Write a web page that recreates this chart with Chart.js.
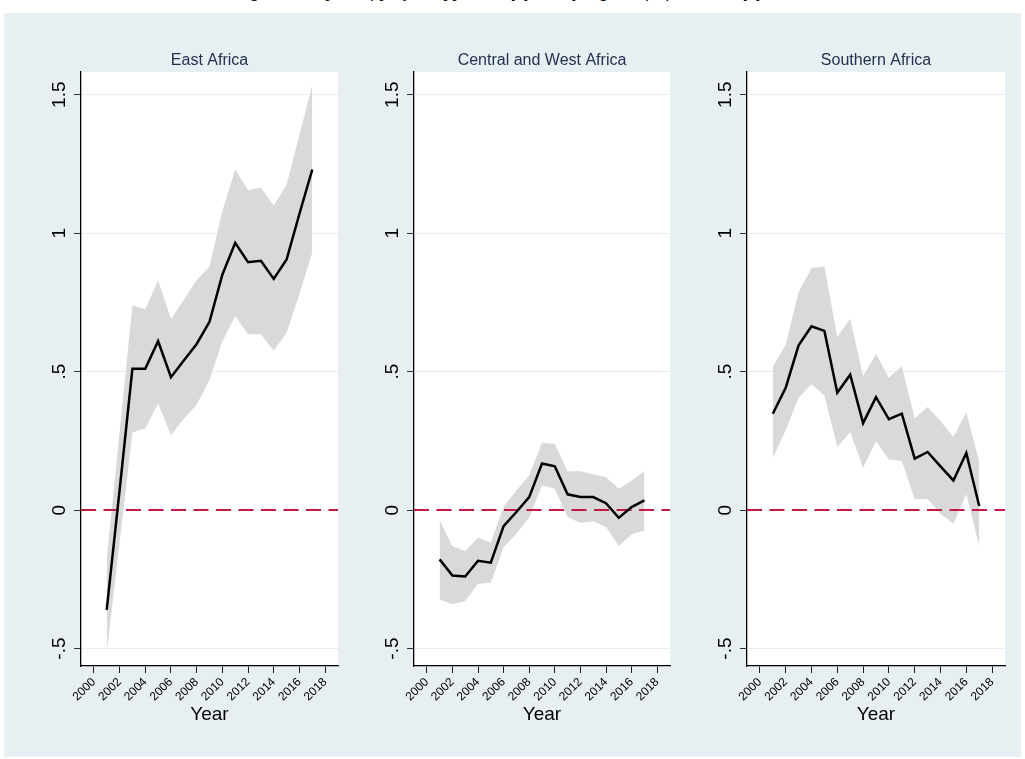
<!DOCTYPE html>
<html>
<head>
<meta charset="utf-8">
<script src="https://cdn.jsdelivr.net/npm/chart.js@4.4.1/dist/chart.umd.min.js"></script>
<style>
  body { margin: 0; width: 1025px; height: 759px; background: #fff; position: relative; overflow: hidden; }
  #caption {
    position: absolute; left: 0; top: -19px; width: 1025px; text-align: center;
    font: italic 18px "Liberation Serif", "DejaVu Serif", serif; line-height: 20px; color: #000;
    white-space: nowrap;
  }
  #bg { position: absolute; left: 4px; top: 13px; width: 1017px; height: 744px; background: #e8eff2; }
  canvas { position: absolute; top: 0; }
</style>
</head>
<body>
<div id="caption">Figure 3: Impact of project approval by year, by region of Africa and by year</div>
<div id="bg"></div>
<canvas id="east" width="314" height="726" style="left:36px"></canvas>
<canvas id="central" width="313" height="726" style="left:369px"></canvas>
<canvas id="south" width="315" height="726" style="left:702px"></canvas>
<script>
// DATA
const years = [2001, 2002, 2003, 2004, 2005, 2006, 2007, 2008, 2009, 2010, 2011, 2012, 2013, 2014, 2015, 2016, 2017];
const xTicks = [2000, 2002, 2004, 2006, 2008, 2010, 2012, 2014, 2016, 2018];
const yTicks = [-0.5, 0, 0.5, 1, 1.5];
const panelTitles = ["East Africa", "Central and West Africa", "Southern Africa"];
const axisTitle = "Year";
const refValue = 0;

const eastEst   = [-0.36, 0.07, 0.51, 0.51, 0.61, 0.48, 0.54, 0.60, 0.68, 0.85, 0.965, 0.895, 0.90, 0.835, 0.905, 1.07, 1.23];
const eastUpper = [-0.18, 0.28, 0.74, 0.725, 0.83, 0.69, 0.76, 0.83, 0.88, 1.08, 1.23, 1.155, 1.165, 1.10, 1.175, 1.355, 1.535];
const eastLower = [-0.515, -0.12, 0.28, 0.295, 0.385, 0.27, 0.33, 0.38, 0.47, 0.61, 0.70, 0.635, 0.635, 0.575, 0.64, 0.78, 0.93];

const centralEst   = [-0.178, -0.236, -0.24, -0.183, -0.19, -0.058, -0.007, 0.047, 0.168, 0.158, 0.057, 0.047, 0.047, 0.025, -0.028, 0.011, 0.035];
const centralUpper = [-0.037, -0.131, -0.148, -0.10, -0.118, 0.013, 0.071, 0.125, 0.243, 0.24, 0.14, 0.14, 0.129, 0.119, 0.077, 0.107, 0.141];
const centralLower = [-0.323, -0.34, -0.329, -0.266, -0.262, -0.134, -0.085, -0.028, 0.089, 0.077, -0.025, -0.047, -0.04, -0.061, -0.13, -0.088, -0.073];

const southEst   = [0.348, 0.442, 0.595, 0.664, 0.647, 0.424, 0.489, 0.314, 0.408, 0.328, 0.348, 0.186, 0.21, 0.158, 0.107, 0.206, 0.015];
const southUpper = [0.517, 0.597, 0.788, 0.874, 0.88, 0.625, 0.691, 0.483, 0.565, 0.478, 0.519, 0.332, 0.372, 0.322, 0.264, 0.352, 0.176];
const southLower = [0.188, 0.288, 0.406, 0.454, 0.414, 0.228, 0.282, 0.153, 0.249, 0.183, 0.177, 0.039, 0.041, -0.013, -0.049, 0.057, -0.13];

const X_MIN = 1999, X_MAX = 2019;
const Y_MIN = -0.563, Y_MAX = 1.582;
const FONT = '"Liberation Sans", Arial, Helvetica, sans-serif';

// ".5" style labels like stata
function fmtY(v) {
  if (v === 0) return "0";
  return String(v).replace("0.", ".");
}

function toPoints(values) {
  return years.map((yr, i) => ({ x: yr, y: values[i] }));
}

// white plot region, panel title, rotated y labels
const panelDecor = {
  id: "panelDecor",
  beforeDraw(chart) {
    const { ctx, chartArea: a } = chart;
    ctx.save();
    ctx.fillStyle = "#ffffff";
    ctx.fillRect(a.left, a.top, a.right - a.left, a.bottom - a.top);
    ctx.restore();
  },
  afterDraw(chart, args, opts) {
    const { ctx, chartArea: a } = chart;
    const yScale = chart.scales.y;
    ctx.save();
    ctx.fillStyle = "#23304f";
    ctx.font = "16px " + FONT;
    ctx.textAlign = "center";
    ctx.textBaseline = "alphabetic";
    ctx.fillText(opts.title, (a.left + a.right) / 2, 65);

    ctx.fillStyle = "#000";
    ctx.font = "19px " + FONT;
    ctx.textBaseline = "middle";
    yTicks.forEach(v => {
      const py = yScale.getPixelForValue(v);
      ctx.save();
      ctx.translate(a.left - 21, py);
      ctx.rotate(-Math.PI / 2);
      ctx.fillText(fmtY(v), 0, 0);
      ctx.restore();
    });
    ctx.restore();
  }
};

function renderPanel(canvasId, title, est, upper, lower) {
  const ctx = document.getElementById(canvasId).getContext("2d");
  return new Chart(ctx, {
    type: "line",
    data: {
      datasets: [
        {
          label: "upper",
          data: toPoints(upper),
          borderWidth: 0,
          pointRadius: 0,
          fill: "+1",
          backgroundColor: "#d9d9d9",
          order: 3
        },
        {
          label: "lower",
          data: toPoints(lower),
          borderWidth: 0,
          pointRadius: 0,
          fill: false,
          order: 3
        },
        {
          label: "zero",
          data: [{ x: X_MIN, y: refValue }, { x: X_MAX, y: refValue }],
          borderColor: "#c21a44",
          borderWidth: 2,
          borderDash: [15, 7.5],
          pointRadius: 0,
          fill: false,
          order: 2
        },
        {
          label: "estimate",
          data: toPoints(est),
          borderColor: "#000",
          borderWidth: 2.5,
          pointRadius: 0,
          fill: false,
          tension: 0,
          order: 1
        }
      ]
    },
    options: {
      responsive: false,
      animation: false,
      devicePixelRatio: 1,
      layout: { padding: { top: 72, left: 0, right: 12, bottom: 0 } },
      plugins: {
        legend: { display: false },
        tooltip: { enabled: false },
        panelDecor: { title: title }
      },
      scales: {
        x: {
          type: "linear",
          min: X_MIN,
          max: X_MAX,
          afterBuildTicks: s => { s.ticks = xTicks.map(v => ({ value: v })); },
          afterFit: s => { s.height = 60; },
          ticks: {
            minRotation: 45,
            maxRotation: 45,
            padding: 2,
            color: "#000",
            font: { family: FONT, size: 12 },
            callback: v => String(v)
          },
          grid: {
            drawOnChartArea: false,
            drawTicks: true,
            tickLength: 7,
            tickColor: "#222",
            tickWidth: 1
          },
          border: { display: true, color: "#000", width: 1.3 },
          title: {
            display: true,
            text: axisTitle,
            color: "#000",
            font: { family: FONT, size: 19 },
            padding: { top: 0, bottom: 0 }
          }
        },
        y: {
          type: "linear",
          min: Y_MIN,
          max: Y_MAX,
          afterBuildTicks: s => { s.ticks = yTicks.map(v => ({ value: v })); },
          afterFit: s => { s.width = 45; },
          ticks: { display: false },
          grid: {
            color: "#e6eef1",
            lineWidth: 1,
            drawTicks: true,
            tickLength: 7,
            tickColor: "#333"
          },
          border: { display: true, color: "#000", width: 1.3 }
        }
      }
    },
    plugins: [panelDecor]
  });
}

renderPanel("east", panelTitles[0], eastEst, eastUpper, eastLower);
renderPanel("central", panelTitles[1], centralEst, centralUpper, centralLower);
renderPanel("south", panelTitles[2], southEst, southUpper, southLower);
</script>
</body>
</html>
